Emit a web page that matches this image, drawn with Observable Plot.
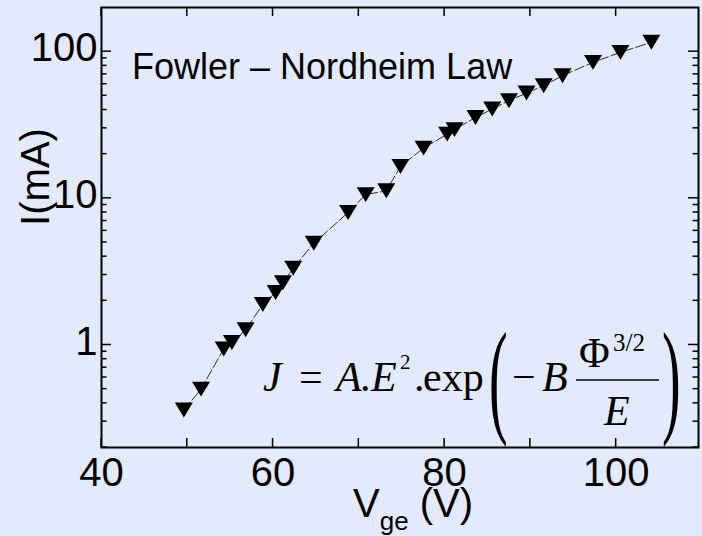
<!DOCTYPE html>
<html>
<head>
<meta charset="utf-8">
<script src="https://cdn.jsdelivr.net/npm/d3@7"></script>
<script src="https://cdn.jsdelivr.net/npm/@observablehq/plot@0.6"></script>
<style>
  html, body { margin: 0; padding: 0; background: #e3eafc; }
  #chart svg { display: block; }
</style>
</head>
<body>
<div id="chart"></div>
<script>
// Gate voltage (V) and emission current (mA)
const vge = [49.6, 51.6, 54.25, 55.2, 56.8, 58.8, 60.3, 61.15, 62.35, 64.75, 68.75, 70.8, 73.2,
             74.85, 77.55, 80.3, 81.15, 83.6, 85.55, 87.5, 89.55, 91.55, 93.75, 97.3, 100.5, 104.1];
const current = [0.36, 0.50, 0.94, 1.04, 1.27, 1.89, 2.28, 2.66, 3.34, 4.94, 8.0, 10.6, 11.25,
                 16.5, 22.0, 27.4, 29.4, 35.6, 40.6, 46.3, 52.2, 58.6, 68.6, 84.5, 98.9, 115.8];

// Axis ticks
const xTickLabels = [40, 60, 80, 100];
const xTickMarks = [40, 50, 60, 70, 80, 90, 100];
const yTickLabels = [1, 10, 100];
const yMinorTicks = [0.2, 0.3, 0.4, 0.5, 0.6, 0.7, 0.8, 0.9,
                     2, 3, 4, 5, 6, 7, 8, 9,
                     20, 30, 40, 50, 60, 70, 80, 90];

const data = vge.map((v, i) => ({v, i: current[i]}));

const bg = "#e3eafc";
const sans = "'Liberation Sans', Arial, Helvetica, sans-serif";
const serif = "'Liberation Serif', 'Times New Roman', Times, serif";

// Downward-pointing filled triangle
const triangleDown = {
  draw(ctx, size) {
    const r = Math.sqrt(size / Math.PI);
    const h = r * 0.83;
    ctx.moveTo(-r, -h);
    ctx.lineTo(r, -h);
    ctx.lineTo(0, h);
    ctx.closePath();
  }
};

// Inward ticks on all four sides of the frame
function frameTicks(index, scales, values, dims) {
  const x = scales.x, y = scales.y;
  const L = dims.marginLeft, R = dims.width - dims.marginRight;
  const T = dims.marginTop, B = dims.height - dims.marginBottom;
  const g = d3.create("svg:g").attr("stroke", "black").attr("stroke-width", 1.5).attr("fill", "none");
  for (const t of xTickMarks) {
    const px = x(t);
    g.append("line").attr("x1", px).attr("x2", px).attr("y1", B).attr("y2", B - 9);
    g.append("line").attr("x1", px).attr("x2", px).attr("y1", T).attr("y2", T + 9);
  }
  const yt = yTickLabels.map(t => [t, 10]).concat(yMinorTicks.map(t => [t, 5.5]));
  for (const [t, len] of yt) {
    const py = y(t);
    g.append("line").attr("x1", L).attr("x2", L + len).attr("y1", py).attr("y2", py);
    g.append("line").attr("x1", R).attr("x2", R - len).attr("y1", py).attr("y2", py);
  }
  return g.node();
}

// Title, axis titles and the Fowler–Nordheim formula
function annotations(index, scales, values, dims) {
  const L = dims.marginLeft, R = dims.width - dims.marginRight;
  const T = dims.marginTop, B = dims.height - dims.marginBottom;
  const g = d3.create("svg:g").attr("fill", "black").attr("text-anchor", "start");

  const txt = (x, y, s, o = {}) => g.append("text")
    .attr("x", x).attr("y", y)
    .attr("font-family", o.family || serif)
    .attr("font-size", o.size || 42)
    .attr("font-style", o.italic ? "italic" : null)
    .text(s);

  // title inside the frame
  txt(L + 31, T + 72, "Fowler – Nordheim Law", {family: sans, size: 36});

  // x-axis title with subscript
  const xl = g.append("text").attr("font-family", sans).attr("font-size", 40)
    .attr("x", 353).attr("y", B + 70);
  xl.append("tspan").text("V");
  xl.append("tspan").attr("font-size", 26).attr("dy", 13).text("ge");
  xl.append("tspan").attr("dy", -13).text(" (V)");

  // y-axis title
  g.append("text").attr("font-family", sans).attr("font-size", 40)
    .attr("text-anchor", "middle")
    .attr("transform", `translate(${L - 52},${T + 170}) rotate(-90)`)
    .text("I(mA)");

  // J = A.E².exp(−B Φ^(3/2) / E)
  const by = B - 56;
  txt(R - 435, by, "J", {italic: true});
  txt(R - 399, by, "=");
  txt(R - 362, by, "A", {italic: true});
  txt(R - 338, by, ".");
  txt(R - 327, by, "E", {italic: true});
  txt(R - 298, by - 22, "2", {size: 21});
  txt(R - 284, by, ".");
  txt(R - 275, by, "exp");
  // tall parentheses
  g.append("text").attr("font-family", serif).attr("font-size", 127)
    .attr("transform", `translate(${R - 209},${B - 27}) scale(0.44,1)`).text("(");
  g.append("text").attr("font-family", serif).attr("font-size", 127)
    .attr("transform", `translate(${R - 36},${B - 27}) scale(0.44,1)`).text(")");
  txt(R - 186, by, "−");
  txt(R - 156, by, "B", {italic: true});
  txt(R - 119, by - 24, "Φ");
  txt(R - 85, by - 40, "3/2", {size: 25});
  g.append("line").attr("x1", R - 122).attr("x2", R - 39)
    .attr("y1", by - 11).attr("y2", by - 11)
    .attr("stroke", "black").attr("stroke-width", 1.5);
  txt(R - 94, by + 34, "E", {italic: true});

  return g.node();
}

const chart = Plot.plot({
  width: 702,
  height: 536,
  marginLeft: 101,
  marginTop: 7,
  marginRight: 4,
  marginBottom: 89,
  style: {background: bg, color: "black"},
  x: {domain: [40, 109.6]},
  y: {type: "log", domain: [0.2, 200]},
  marks: [
    Plot.line(data, {x: "v", y: "i", stroke: "black", strokeWidth: 0.8, strokeDasharray: "10,3"}),
    Plot.dot(data, {x: "v", y: "i", symbol: triangleDown, r: 9, fill: "black", stroke: "none"}),
    Plot.frame({stroke: "black", strokeWidth: 2}),
    frameTicks,
    Plot.axisX({ticks: xTickLabels, tickSize: 0, tickPadding: 10, label: null,
                fontSize: 40, fontFamily: sans, tickFormat: d => String(d)}),
    Plot.axisY({ticks: yTickLabels, tickSize: 0, tickPadding: 4, label: null, dy: -3,
                fontSize: 40, fontFamily: sans, tickFormat: d => String(d)}),
    annotations
  ]
});

document.getElementById("chart").appendChild(chart);
</script>
</body>
</html>
